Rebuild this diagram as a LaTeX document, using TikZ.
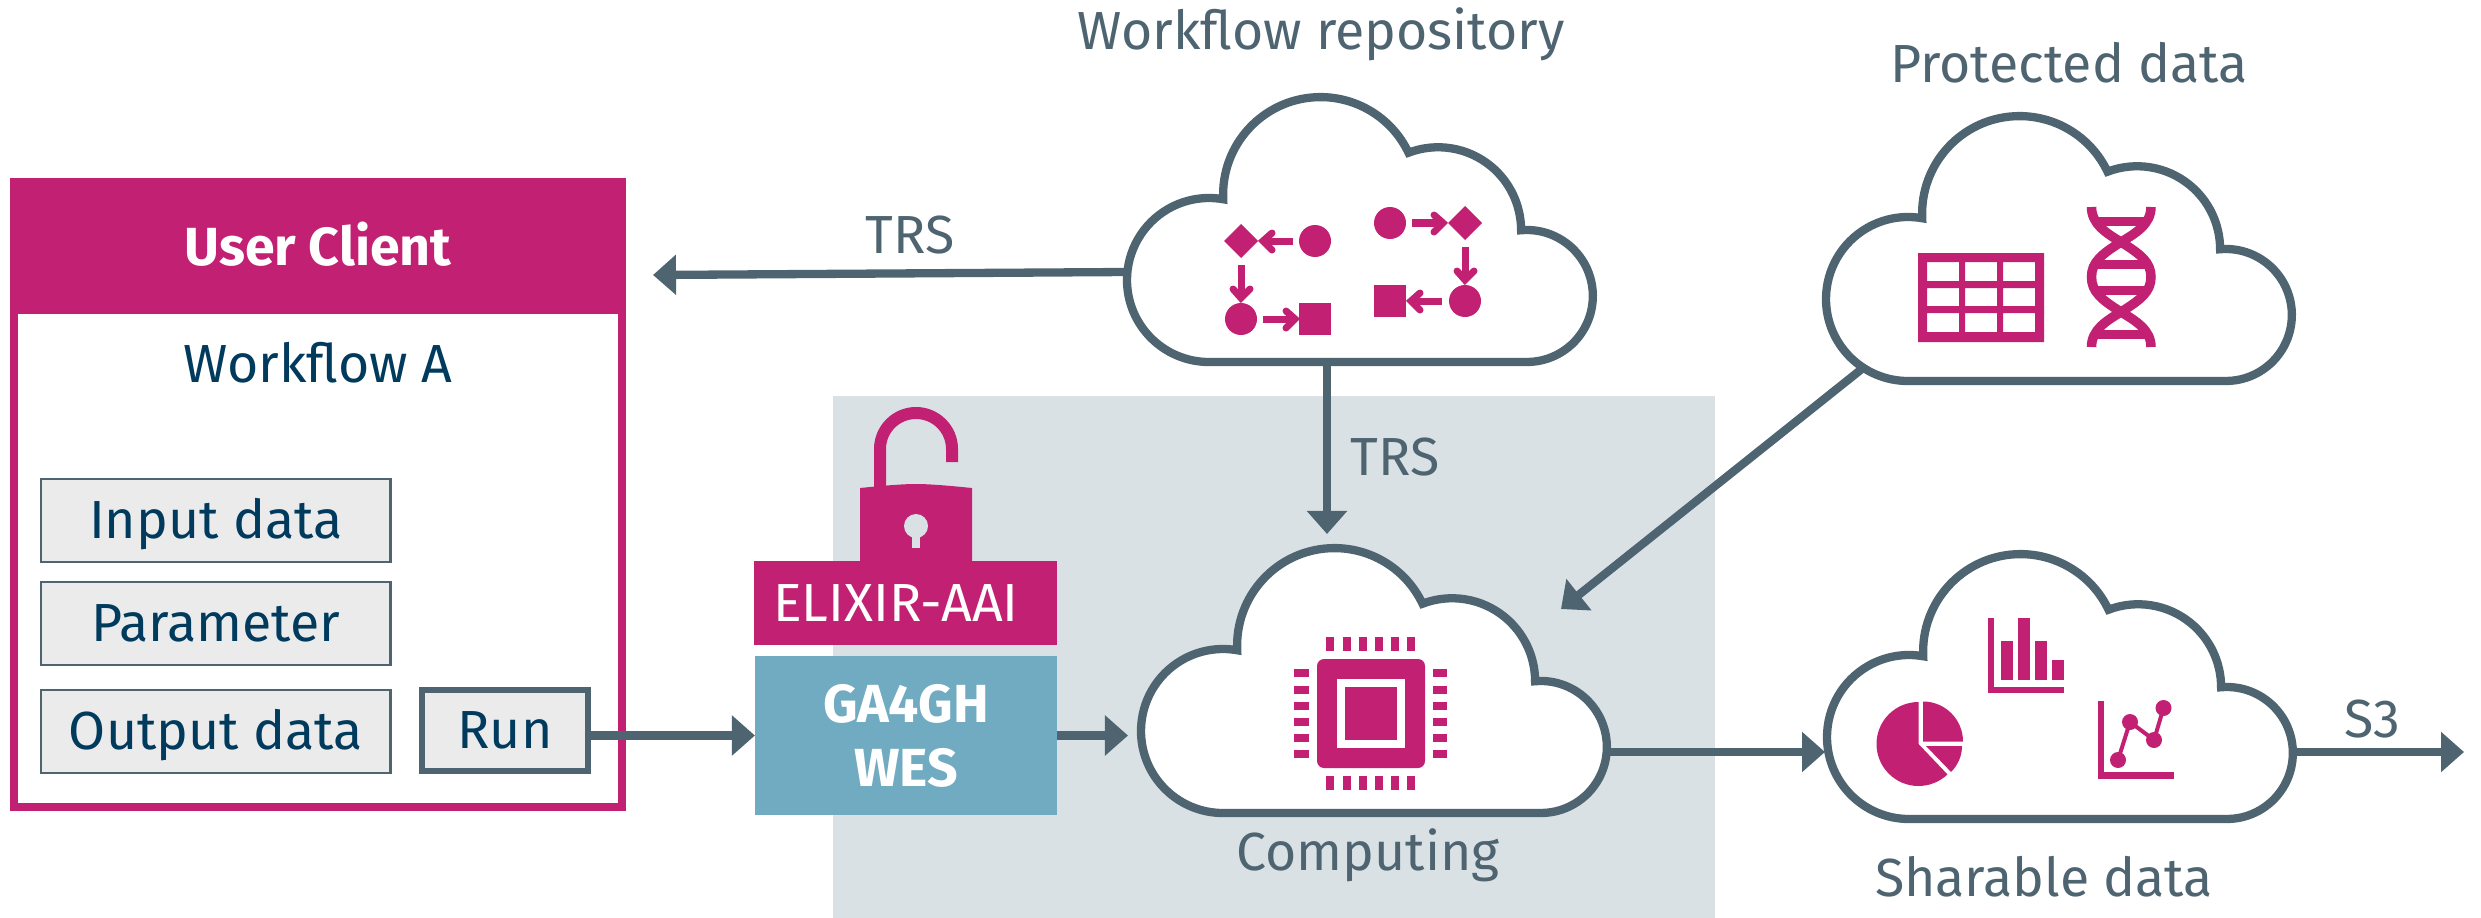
\documentclass[tikz,border=0pt]{standalone}
\usepackage{fontspec}
\setmainfont{Fira Sans}
\usetikzlibrary{arrows.meta}
\definecolor{mag}{HTML}{C22173}
\definecolor{slate}{HTML}{4E6470}
\definecolor{navy}{HTML}{003A5D}
\definecolor{bggray}{HTML}{D9E1E5}
\definecolor{wesblue}{HTML}{70ABC1}
\definecolor{boxgray}{HTML}{EBEBEB}
\newcommand{\fs}{\fontsize{15.25}{18.2}\selectfont}
\newcommand{\cloudat}[2]{%
    \draw[slate,fill=white,line width=0.083cm,miter limit=10,shift={(#1,#2)}]
      (400,265) -- (82,265) arc[start angle=90,end angle=280,radius=82]
      arc[start angle=177.2,end angle=334.6,radius=97.4]
      arc[start angle=249.1,end angle=360,radius=83]
      arc[start angle=265,end angle=450,radius=66] -- cycle;}
\tikzset{
  conn/.style={slate,line width=0.083cm,-{Triangle[length=0.23cm,width=0.39cm]}},
  lbl/.style={slate,anchor=base,inner sep=0pt,font=\fs},
  field/.style={draw=slate,fill=boxgray,line width=0.025cm,text=navy,font=\fs,inner sep=0pt,outer sep=0pt,
     minimum width=3.49cm,minimum height=0.83cm,text height=0.42cm,text depth=0.06cm},
  chev/.style={mag,line width=0.07cm,line cap=butt},
  chevh/.style={mag,line width=0.07cm,line cap=round,line join=miter},
}
\begin{document}
\begin{tikzpicture}[x=0.01cm,y=0.01cm,yscale=-1]
\useasboundingbox (0,0) rectangle (2481,918);
% backdrop
\fill[bggray] (833,396) rectangle (1715,918);

% named anchor points
\coordinate (wfW) at (1127,272);
\coordinate (trsTip) at (653,275);
\coordinate (wfS) at (1327,362);
\coordinate (compN) at (1327,534);
\coordinate (protSW) at (1863,368);
\coordinate (compNE) at (1561,609);
\coordinate (compE) at (1605,752);
\coordinate (shareW) at (1825,752);
\coordinate (shareE) at (2291,752);
\coordinate (s3Tip) at (2464,752);
\coordinate (compW) at (1128,735.5);

% client
\node[draw=mag,fill=white,line width=0.08cm,minimum width=6.08cm,minimum height=6.25cm,inner sep=0pt,outer sep=0pt] (client) at (318,494.5) {};
\node[fill=mag,text=white,font=\fs\bfseries,minimum width=6.16cm,minimum height=1.36cm,inner sep=0pt,outer sep=0pt,text height=0.44cm,text depth=0.06cm] (hdr) at (318,246) {User Client};
\node[anchor=base,text=navy,font=\fs,inner sep=0pt] (wfa) at (318,382) {Workflow A};
\node[field] (input) at (215.8,520.5) {Input data};
\node[field] (param) at (215.8,623.5) {Parameter};
\node[field] (output) at (215.8,731.5) {Output data};
\node[field,line width=0.06cm,minimum width=1.66cm,minimum height=0.81cm] (run) at (505,730.5) {Run};

% padlock
\draw[mag,line width=0.12cm] (880,495) -- (880,449) arc[start angle=180,end angle=360,radius=36] -- (952,462);
\fill[mag] (860,565) -- (860,488) .. controls (885,485.5) and (903,484) .. (916,484) .. controls (929,484) and (947,485.5) .. (972,488) -- (972,565) -- cycle;
\fill[bggray] (916,526) circle[radius=12];
\fill[bggray] (912,530) rectangle (920,548);

\node[fill=mag,text=white,font=\fs,minimum width=3.03cm,minimum height=0.84cm,inner sep=0pt,outer sep=0pt,text height=0.42cm,text depth=0.06cm] (aai) at (905.5,603) {\hspace*{-0.19cm}ELIXIR-AAI};
\node[fill=wesblue,text=white,font=\fs\bfseries,minimum width=3.02cm,minimum height=1.59cm,inner sep=0pt,outer sep=0pt,align=center] (wes) at (906,735.5) {GA4GH\\WES};

% connectors
\draw[conn] (wfW) -- (trsTip);
\draw[conn] (wfS) -- (compN);
\draw[conn] (protSW) -- (compNE);
\draw[conn] (run.east |- wes.west) -- (wes.west);
\draw[conn] (wes.east) -- (compW);
\draw[conn] (compE) -- (shareW);
\draw[conn] (shareE) -- (s3Tip);

% clouds
\cloudat{1127}{97}
\cloudat{1826}{116}
\cloudat{1141}{548}
\cloudat{1827}{554}

% labels
\node[lbl] (l1) at (1321,50) {Workflow repository};
\node[lbl] (l2) at (2069,82) {Protected data};
\node[lbl] (l3) at (910,253) {TRS};
\node[lbl] (l4) at (1395,475) {TRS};
\node[lbl] (l5) at (1368,870) {Computing};
\node[lbl] (l6) at (2044,896) {Sharable data};
\node[lbl] (l7) at (2372,737) {S3};

% workflow icon, left group
\fill[mag] (1241,224) -- (1258,241) -- (1241,258) -- (1224,241) -- cycle;
\fill[mag] (1315,241) circle[radius=16];
\fill[mag] (1241,319) circle[radius=16];
\fill[mag] (1299,303) rectangle (1331,335);
\draw[chev] (1293,241) -- (1266,241);
\draw[chevh] (1272,233) -- (1263,241) -- (1272,250);
\draw[chev] (1241,265) -- (1241,296);
\draw[chevh] (1233,289) -- (1241,298) -- (1250,289);
\draw[chev] (1263,319) -- (1293,319);
\draw[chevh] (1286,311) -- (1295,319) -- (1286,328);
% workflow icon, right group
\fill[mag] (1390,223) circle[radius=16];
\fill[mag] (1465,206) -- (1482,223) -- (1465,240) -- (1448,223) -- cycle;
\fill[mag] (1465,301) circle[radius=16];
\fill[mag] (1374,285) rectangle (1406,317);
\draw[chev] (1412,223) -- (1441,223);
\draw[chevh] (1434,215) -- (1443,223) -- (1434,232);
\draw[chev] (1465,247) -- (1465,278);
\draw[chevh] (1457,271) -- (1465,280) -- (1474,271);
\draw[chev] (1442,301) -- (1413,301);
\draw[chevh] (1420,293) -- (1411,301) -- (1420,310);

% table icon
\fill[mag,even odd rule] (1918,253) rectangle (2044,342)
  (1927,262) rectangle (1959,281) (1965,262) rectangle (1997,281) (2003,262) rectangle (2035,281)
  (1927,288) rectangle (1959,306) (1965,288) rectangle (1997,306) (2003,288) rectangle (2035,306)
  (1927,313) rectangle (1959,332) (1965,313) rectangle (1997,332) (2003,313) rectangle (2035,332);
% DNA icon
\draw[mag,line width=0.095cm]
  (2091.5,207) .. controls (2091.5,224) and (2106,233) .. (2121,242)
  .. controls (2140,254) and (2151,262) .. (2151,277)
  .. controls (2151,292) and (2140,300) .. (2121,312)
  .. controls (2106,321) and (2091.5,330) .. (2091.5,347);
\draw[mag,line width=0.095cm]
  (2151,207) .. controls (2151,224) and (2136,233) .. (2121,242)
  .. controls (2102,254) and (2091.5,262) .. (2091.5,277)
  .. controls (2091.5,292) and (2102,300) .. (2121,312)
  .. controls (2136,321) and (2151,330) .. (2151,347);
\foreach \yy in {221,264,290,334}{\fill[mag] (2093,\yy-4.5) rectangle (2149,\yy+4.5);}

% chip icon
\fill[mag,rounded corners=0.07cm] (1317,659) rectangle (1425,768);
\fill[white] (1337,679) rectangle (1405,748);
\fill[mag] (1345,687) rectangle (1397,740);
\foreach \px in {1326,1343,1359,1375,1391,1407}{
  \fill[mag] (\px,637) rectangle (\px+8,651);
  \fill[mag] (\px,776) rectangle (\px+8,790);}
\foreach \py in {669,686,702,718,734,750}{
  \fill[mag] (1294,\py) rectangle (1309,\py+8);
  \fill[mag] (1433,\py) rectangle (1447,\py+8);}

% bar chart icon
\fill[mag] (1988,618) rectangle (1994,693);
\fill[mag] (1988,687) rectangle (2064,693);
\fill[mag] (2001,641) rectangle (2013,680);
\fill[mag] (2018,618) rectangle (2030,680);
\fill[mag] (2034.5,641) rectangle (2047,680);
\fill[mag] (2051.5,660) rectangle (2064,680);
% pie icon
\fill[mag] (1918.5,744) -- ++(-90:42) arc[start angle=-90,end angle=-313.6,radius=42] -- cycle;
\fill[mag] (1923,741.5) -- ++(-90:40) arc[start angle=-90,end angle=0,radius=40] -- cycle;
\fill[mag] (1926,746) -- ++(0:36) arc[start angle=0,end angle=46,radius=36] -- cycle;
% line chart icon
\fill[mag] (2098,701) rectangle (2104,779);
\fill[mag] (2098,772) rectangle (2174,779);
\draw[mag,line width=0.04cm] (2118,760) -- (2130,722) -- (2154,740) -- (2163.5,708);
\foreach \cx/\cy in {2118/760,2130/722,2154/740,2163.5/708}{\fill[mag] (\cx,\cy) circle[radius=8];}
\end{tikzpicture}
\end{document}
